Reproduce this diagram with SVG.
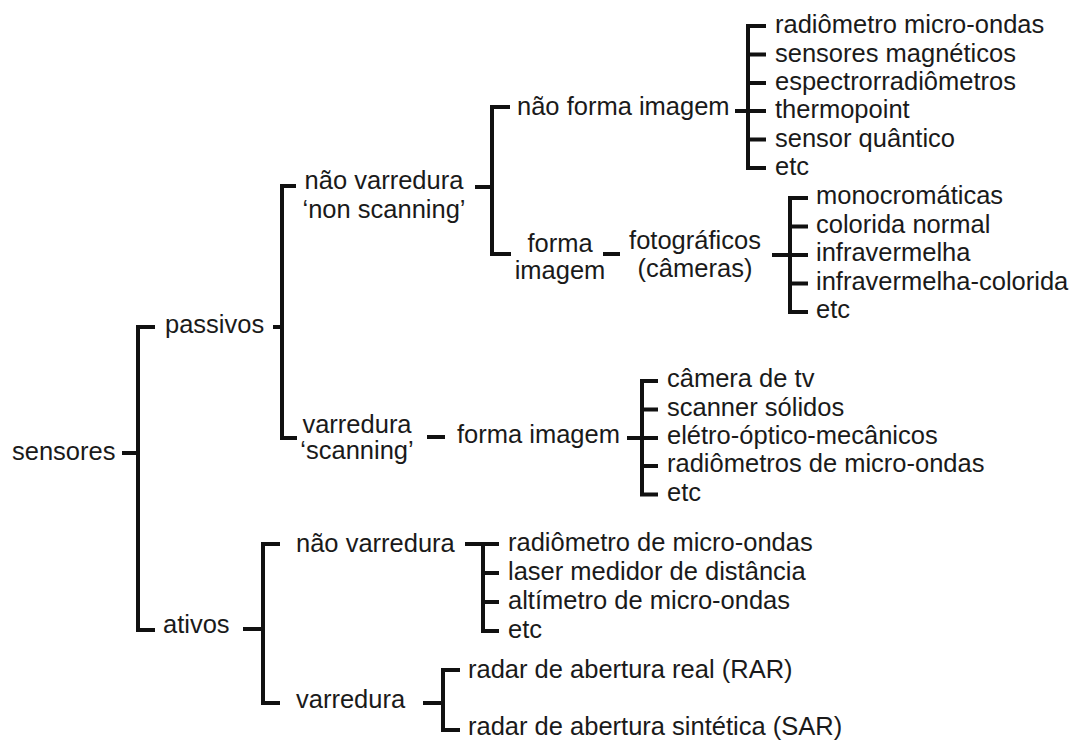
<svg xmlns="http://www.w3.org/2000/svg" width="1073" height="740" viewBox="0 0 1073 740">
<style>
.t{font-family:"Liberation Sans",Arial,sans-serif;font-size:25.5px;fill:#1a1a1a}
.c{text-anchor:middle}
.ln{fill:none;stroke:#111;stroke-width:4;stroke-linecap:butt;stroke-linejoin:miter}
</style>
<rect width="1073" height="740" fill="#fff"/>
<g id="connectors" class="ln">
<path d="M122,453H138"/>
<path d="M155,327H138V630H155"/>
<path d="M273,327H282"/>
<path d="M296,186H282V438H297"/>
<path d="M475,187H492"/>
<path d="M510,107H492V254H511"/>
<path d="M735,111H766"/>
<path d="M766,26H748V168H766M748,54.5H766M748,83H766M748,139.5H766"/>
<path d="M603,254H620"/>
<path d="M772,255H808"/>
<path d="M808,198H790V312H808M790,226.5H808M790,283.5H808"/>
<path d="M427,437H445"/>
<path d="M627,438H658"/>
<path d="M658,381H642V494.5H658M642,409.5H658M642,466H658"/>
<path d="M243,629H263"/>
<path d="M280,544H263V703H280"/>
<path d="M465,544H499"/>
<path d="M499,544H483V631H499M483,573H499M483,602H499"/>
<path d="M423,703H443"/>
<path d="M460,670H443V730H460"/>
</g>
<g id="n-sensores"><text class="t" x="12" y="460">sensores</text></g>
<g id="n-passivos"><text class="t" x="165" y="333">passivos</text></g>
<g id="n-ativos"><text class="t" x="163" y="633">ativos</text></g>
<g id="n-nao-varredura-p"><text class="t c" x="384" y="189">não varredura</text><text class="t c" x="384" y="218">‘non scanning’</text></g>
<g id="n-varredura-p"><text class="t c" x="357" y="433">varredura</text><text class="t c" x="357" y="459">‘scanning’</text></g>
<g id="n-nao-forma-imagem"><text class="t" x="517" y="115">não forma imagem</text></g>
<g id="n-forma-imagem-1"><text class="t c" x="560" y="252">forma</text><text class="t c" x="560" y="279">imagem</text></g>
<g id="n-fotograficos"><text class="t c" x="695" y="249">fotográficos</text><text class="t c" x="695" y="277">(câmeras)</text></g>
<g id="n-forma-imagem-2"><text class="t" x="457" y="443">forma imagem</text></g>
<g id="n-nfi-items">
<text class="t" x="775" y="33">radiômetro micro-ondas</text>
<text class="t" x="775" y="61.5">sensores magnéticos</text>
<text class="t" x="775" y="90">espectrorradiômetros</text>
<text class="t" x="775" y="118">thermopoint</text>
<text class="t" x="775" y="146.5">sensor quântico</text>
<text class="t" x="775" y="175">etc</text>
</g>
<g id="n-foto-items">
<text class="t" x="816" y="204">monocromáticas</text>
<text class="t" x="816" y="232.5">colorida normal</text>
<text class="t" x="816" y="261">infravermelha</text>
<text class="t" x="816" y="289.5">infravermelha-colorida</text>
<text class="t" x="816" y="318">etc</text>
</g>
<g id="n-scan-items">
<text class="t" x="667" y="387">câmera de tv</text>
<text class="t" x="667" y="415.5">scanner sólidos</text>
<text class="t" x="667" y="444">elétro-óptico-mecânicos</text>
<text class="t" x="667" y="472">radiômetros de micro-ondas</text>
<text class="t" x="667" y="500.5">etc</text>
</g>
<g id="n-nao-varredura-a"><text class="t" x="296" y="552">não varredura</text></g>
<g id="n-nva-items">
<text class="t" x="508" y="551">radiômetro de micro-ondas</text>
<text class="t" x="508" y="580">laser medidor de distância</text>
<text class="t" x="508" y="609">altímetro de micro-ondas</text>
<text class="t" x="508" y="638">etc</text>
</g>
<g id="n-varredura-a"><text class="t" x="296" y="708">varredura</text></g>
<g id="n-radar">
<text class="t" x="468" y="678">radar de abertura real (RAR)</text>
<text class="t" x="468" y="735">radar de abertura sintética (SAR)</text>
</g>
</svg>
